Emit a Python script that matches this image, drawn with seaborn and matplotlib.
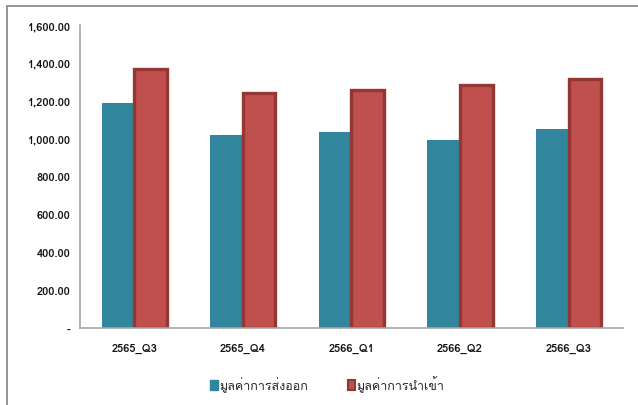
import matplotlib
matplotlib.use("Agg")
import matplotlib.pyplot as plt
from matplotlib import font_manager
from matplotlib.ticker import FuncFormatter
from matplotlib.patches import Patch
from matplotlib.ft2font import FT2Font
import seaborn as sns
import pandas as pd

categories = ["2565_Q3", "2565_Q4", "2566_Q1", "2566_Q2", "2566_Q3"]
export_values = [1190, 1017, 1033, 990, 1050]
import_values = [1365, 1240, 1255, 1285, 1315]
series_names = ["มูลค่าการส่งออก", "มูลค่าการนำเข้า"]
y_ticks = [0, 200, 400, 600, 800, 1000, 1200, 1400, 1600]

sns.set_theme(style="white")

# find a font with Thai glyphs if available
thai_family = None
for f in font_manager.fontManager.ttflist:
    try:
        ft = FT2Font(f.fname)
        if 0x0E01 in ft.get_charmap():
            thai_family = f.name
            break
    except Exception:
        continue
fams = ([thai_family] if thai_family else []) + ["DejaVu Sans"]
plt.rcParams["font.family"] = fams

df = pd.DataFrame({
    "cat": categories * 2,
    "val": export_values + import_values,
    "series": [series_names[0]] * 5 + [series_names[1]] * 5,
})

fig = plt.figure(figsize=(6.38, 4.06), dpi=100)
ax = fig.add_axes([0.1254, 0.19, 0.851, 0.746])

palette = {series_names[0]: "#31859C", series_names[1]: "#C0504D"}
sns.barplot(data=df, x="cat", y="val", hue="series", palette=palette,
            width=0.6, gap=0, saturation=1, ax=ax, legend=False)

# red bars get a dark border
n = len(categories)
for i, p in enumerate(ax.patches):
    if i >= n:
        p.set_edgecolor("#943634")
        p.set_linewidth(2.4)
    else:
        p.set_linewidth(0)

ax.set_ylim(0, 1600)
ax.set_yticks(y_ticks)
ax.yaxis.set_major_formatter(FuncFormatter(lambda v, _: "-" if v == 0 else f"{v:,.2f}"))
ax.set_xlabel("")
ax.set_ylabel("")
for s in ["top", "right"]:
    ax.spines[s].set_visible(False)
for s in ["left", "bottom"]:
    ax.spines[s].set_color("#A6A6A6")
    ax.spines[s].set_linewidth(1.2)
ax.tick_params(axis="both", length=0, labelsize=8, colors="#111111")
for lab in ax.get_xticklabels() + ax.get_yticklabels():
    lab.set_fontweight("bold")
ax.tick_params(axis="x", pad=11)
ax.tick_params(axis="y", pad=7)

# legend
handles = [Patch(facecolor="#31859C", edgecolor="#31859C"),
           Patch(facecolor="#C0504D", edgecolor="#943634", linewidth=1.5)]
fig.legend(handles, series_names, loc="center", bbox_to_anchor=(0.513, 0.052),
           ncol=2, frameon=False, fontsize=9, handlelength=0.6, handleheight=0.85,
           handletextpad=0.1, columnspacing=3.2)

# outer border (top and left)
fig.add_artist(plt.Line2D([7 / 638, 1], [1 - 7 / 406, 1 - 7 / 406], color="#8C8C8C", lw=1.3,
                          transform=fig.transFigure))
fig.add_artist(plt.Line2D([7 / 638, 7 / 638], [0, 1 - 7 / 406], color="#8C8C8C", lw=1.3,
                          transform=fig.transFigure))

fig.savefig("out.png", dpi=100)
